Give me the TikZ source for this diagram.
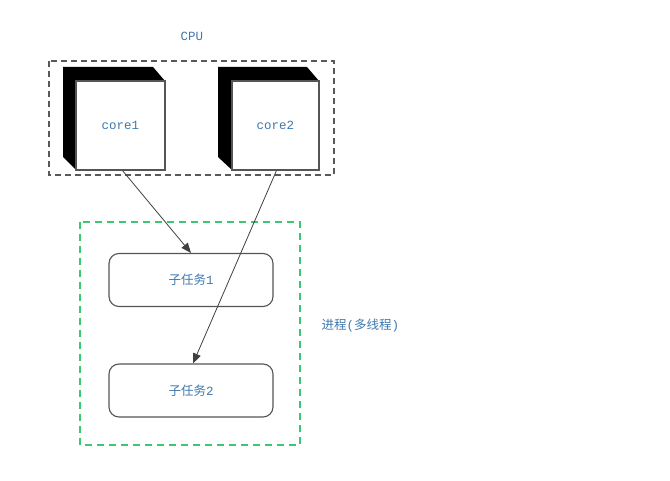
\documentclass[tikz,border=0pt]{standalone}
\usepackage{fontspec}
\setmonofont{Liberation Mono}
\newfontfamily\cjk{Noto Sans CJK SC}
\usetikzlibrary{arrows.meta}
\definecolor{txtblue}{HTML}{3F78AE}
\definecolor{edgegray}{HTML}{555555}
\definecolor{dashgreen}{HTML}{3CC870}
\tikzset{
  lbl/.style={text=txtblue, font=\ttfamily\fontsize{12.5}{14}\selectfont},
  cjklbl/.style={},
  frontface/.style={draw=edgegray, fill=white, line width=1.1pt, minimum width=89pt, minimum height=89pt, inner sep=0pt, lbl},
  taskbox/.style={draw=edgegray, fill=white, line width=1.1pt, rounded corners=10pt, minimum width=164pt, minimum height=53pt, inner sep=0pt, lbl},
  conn/.style={draw=black!75, line width=0.8pt, -{Triangle[length=10pt,width=8pt]}},
}
\newcommand{\cjktext}[1]{{\cjk\fontsize{12.5}{14}\selectfont #1}}
\begin{document}
\begin{tikzpicture}[x=1pt,y=-1pt]
\useasboundingbox (0,0) rectangle (670,481);
% CPU box
\draw[draw=black!65, line width=1.1pt, dash pattern=on 6pt off 4pt] (49,61) rectangle (334,175);
\node[lbl] (cpu) at (192,36) {CPU};
% core1
\fill[black] (63,67) -- (153,67) -- (165,81) -- (76,81) -- (76,170) -- (63,157) -- cycle;
\node[frontface] (core1) at (120.5,125.5) {core1};
% core2
\fill[black] (218,67) -- (307,67) -- (319,81) -- (232,81) -- (232,170) -- (218,157) -- cycle;
\node[frontface, minimum width=87pt] (core2) at (275.5,125.5) {core2};
% process box
\draw[draw=dashgreen, line width=1.1pt, dash pattern=on 7pt off 5pt] (80,222) rectangle (300,445);
\node[lbl, anchor=west] (proc) at (318,326) {\cjktext{进程}(\cjktext{多线程})};
\node[taskbox] (t1) at (191,280) {\cjktext{子任务}1};
\node[taskbox] (t2) at (191,390.5) {\cjktext{子任务}2};
% connectors
\coordinate (c1s) at ([xshift=2pt]core1.south);
\draw[conn] (c1s) -- (t1.north);
\draw[conn] ([xshift=1pt]core2.south) -- ([xshift=2pt]t2.north);
\end{tikzpicture}
\end{document}
